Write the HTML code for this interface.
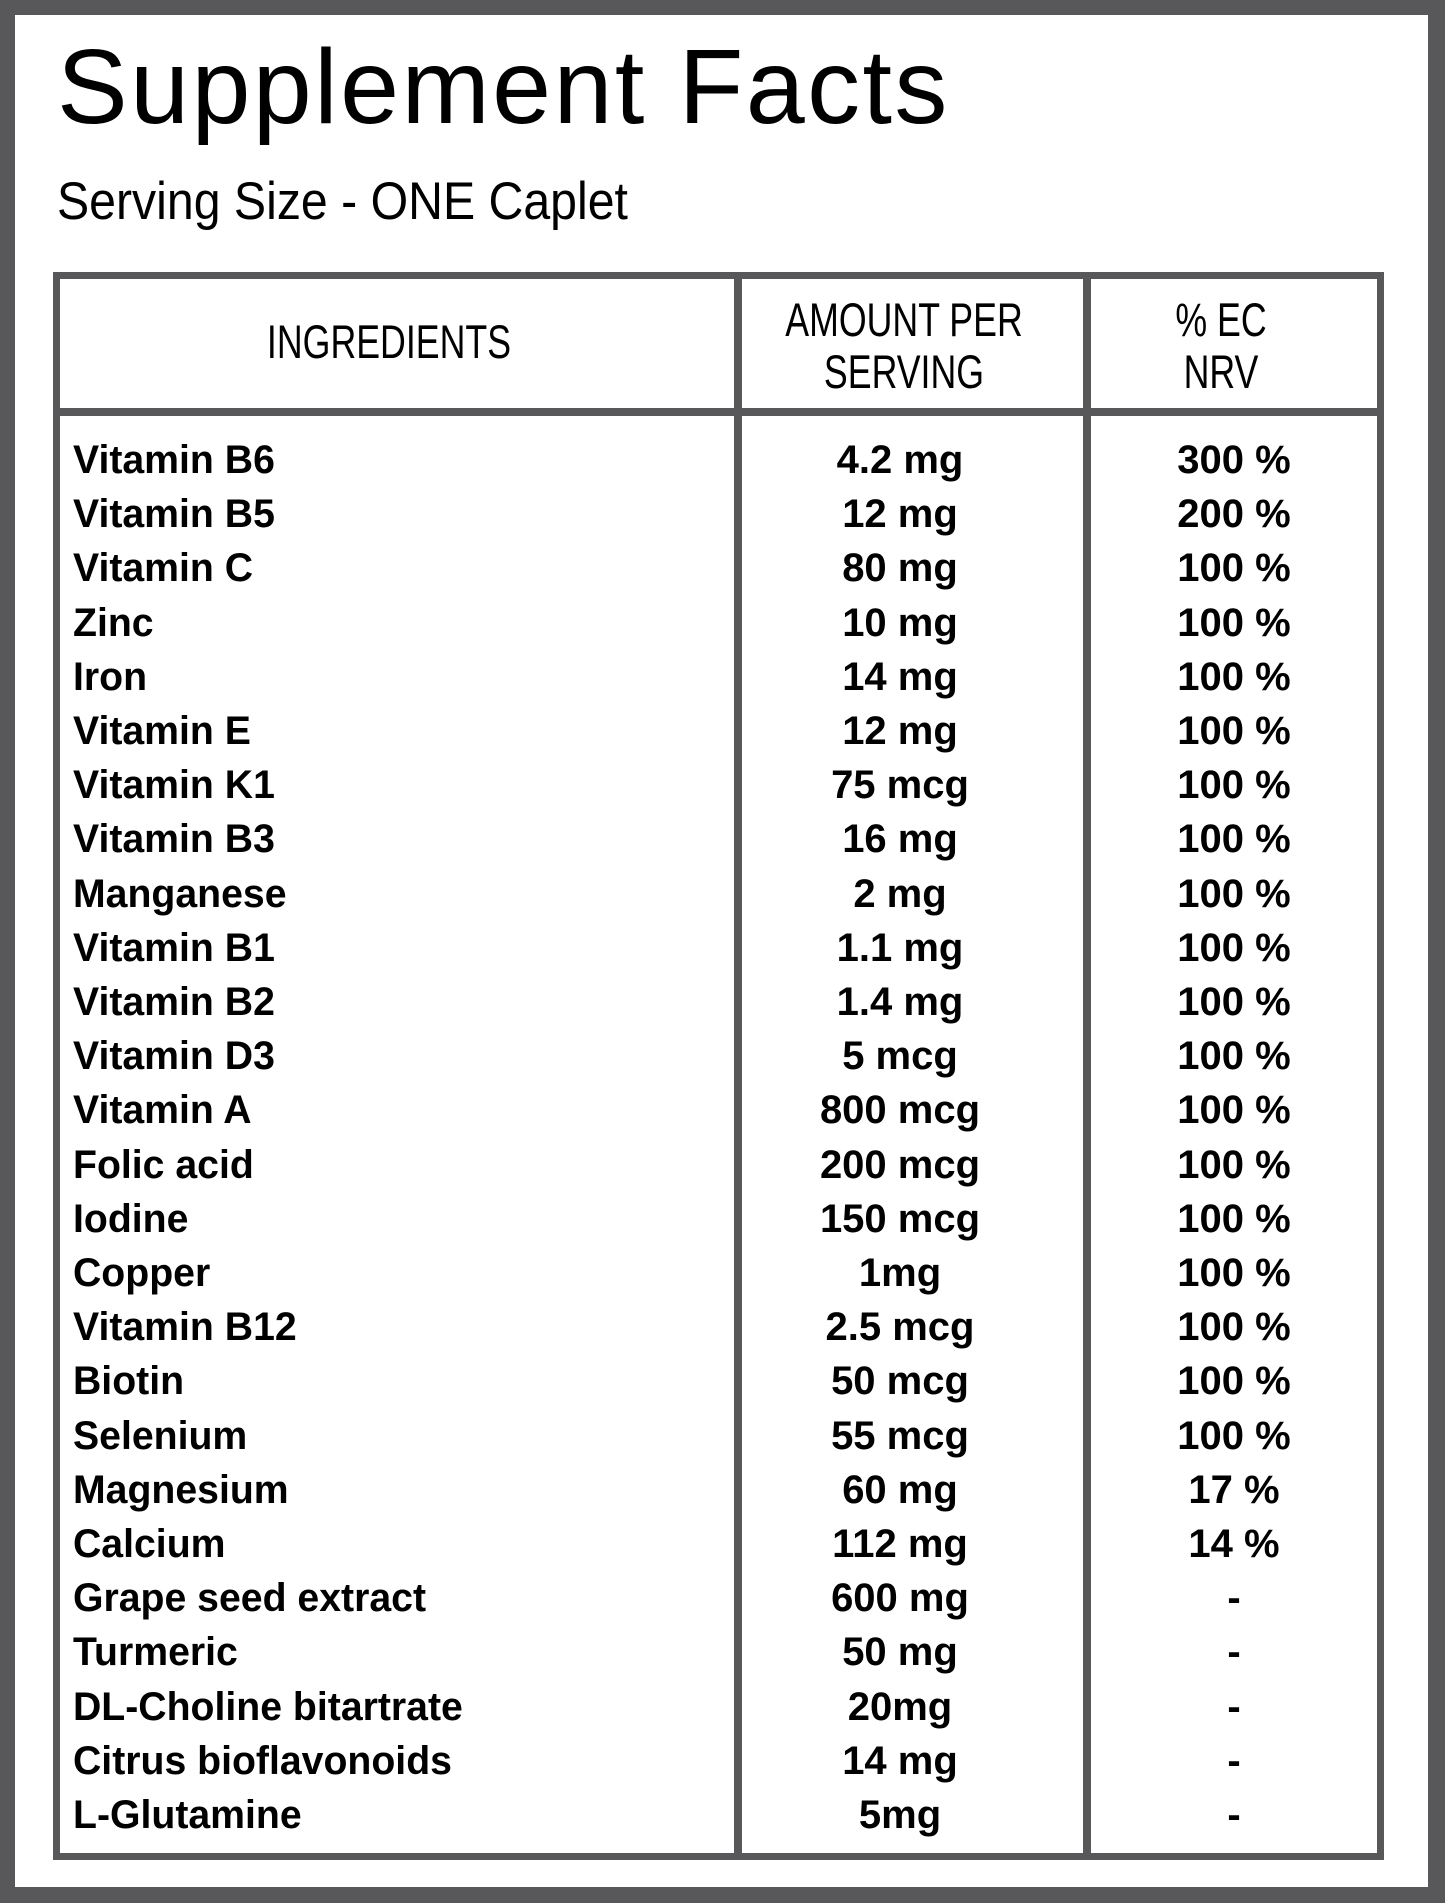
<!DOCTYPE html>
<html><head><meta charset="utf-8"><style>
*{margin:0;padding:0;box-sizing:border-box}
body{width:1445px;height:1903px;background:#58585a;position:relative;font-family:"Liberation Sans",sans-serif;color:#000;overflow:hidden}
.inner{position:absolute;left:15px;top:15px;width:1413px;height:1872px;background:#fff}
.title{position:absolute;left:57px;top:22px;font-size:106px;line-height:130px;white-space:nowrap;letter-spacing:2.4px}
.sub{position:absolute;left:57px;top:172px;font-size:53px;line-height:60px;white-space:nowrap;transform:scaleX(0.91);transform-origin:left top}
.tbl{position:absolute;left:53px;top:272px;width:1331px;height:1588px;border:7px solid #58585a}
.v{position:absolute;top:0;width:8px;height:100%;background:#58585a}
.h{position:absolute;left:0;top:129px;width:100%;height:8px;background:#58585a}
.hd{position:absolute;font-size:47px;line-height:52px;text-align:center;white-space:nowrap;transform:scaleX(0.76);width:400px;margin-left:-200px}
.r{position:absolute;font-size:40px;font-weight:bold;line-height:54.2px;white-space:nowrap}
.l{transform:scaleX(0.98);transform-origin:left top}
.c{text-align:center;width:400px}
</style></head><body>
<div class="inner"></div>
<div class="title">Supplement Facts</div>
<div class="sub">Serving Size - ONE Caplet</div>
<div class="tbl">
<div class="v" style="left:674px"></div>
<div class="v" style="left:1023px"></div>
<div class="h"></div>
</div>
<div class="hd" style="left:389px;top:316px">INGREDIENTS</div>
<div class="hd" style="left:904px;top:294px">AMOUNT PER<br>SERVING</div>
<div class="hd" style="left:1221px;top:294px">% EC<br>NRV</div>
<div class="r l" style="left:73px;top:433px">Vitamin B6<br>Vitamin B5<br>Vitamin C<br>Zinc<br>Iron<br>Vitamin E<br>Vitamin K1<br>Vitamin B3<br>Manganese<br>Vitamin B1<br>Vitamin B2<br>Vitamin D3<br>Vitamin A<br>Folic acid<br>Iodine<br>Copper<br>Vitamin B12<br>Biotin<br>Selenium<br>Magnesium<br>Calcium<br>Grape seed extract<br>Turmeric<br>DL-Choline bitartrate<br>Citrus bioflavonoids<br>L-Glutamine</div>
<div class="r c" style="left:700px;top:433px">4.2 mg<br>12 mg<br>80 mg<br>10 mg<br>14 mg<br>12 mg<br>75 mcg<br>16 mg<br>2 mg<br>1.1 mg<br>1.4 mg<br>5 mcg<br>800 mcg<br>200 mcg<br>150 mcg<br>1mg<br>2.5 mcg<br>50 mcg<br>55 mcg<br>60 mg<br>112 mg<br>600 mg<br>50 mg<br>20mg<br>14 mg<br>5mg</div>
<div class="r c" style="left:1034px;top:433px">300 %<br>200 %<br>100 %<br>100 %<br>100 %<br>100 %<br>100 %<br>100 %<br>100 %<br>100 %<br>100 %<br>100 %<br>100 %<br>100 %<br>100 %<br>100 %<br>100 %<br>100 %<br>100 %<br>17 %<br>14 %<br>-<br>-<br>-<br>-<br>-</div>
</body></html>
